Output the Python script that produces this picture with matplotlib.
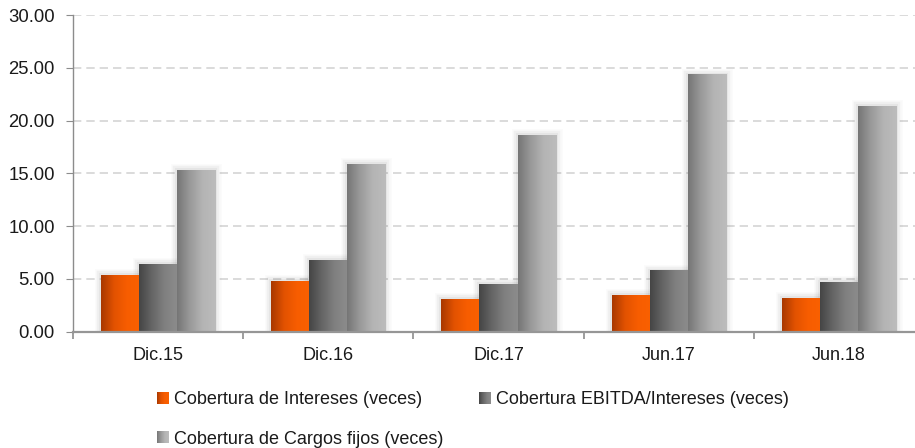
import numpy as np
import matplotlib
matplotlib.use("Agg")
import matplotlib.pyplot as plt
from matplotlib.colors import LinearSegmentedColormap
from matplotlib.patches import Rectangle
from matplotlib.legend_handler import HandlerBase
from matplotlib import patheffects as pe

plt.rcParams['font.family'] = ['Liberation Sans', 'DejaVu Sans']

categories = ['Dic.15', 'Dic.16', 'Dic.17', 'Jun.17', 'Jun.18']
intereses = [5.35, 4.78, 3.07, 3.50, 3.17]
ebitda = [6.40, 6.80, 4.53, 5.78, 4.67]
cargos = [15.30, 15.90, 18.65, 24.35, 21.40]
labels = ['Cobertura de Intereses (veces)',
          'Cobertura EBITDA/Intereses (veces)',
          'Cobertura de Cargos fijos (veces)']

cmaps = [
    LinearSegmentedColormap.from_list('o', ['#a83800', '#e25200', '#f75d00', '#fa6000']),
    LinearSegmentedColormap.from_list('d', ['#454545', '#666666', '#808080', '#8c8c8c']),
    LinearSegmentedColormap.from_list('l', ['#767676', '#9a9a9a', '#b4b4b4', '#bcbcbc']),
]


class GradHandler(HandlerBase):
    def __init__(self, cmap):
        super().__init__()
        self.cmap = cmap

    def create_artists(self, legend, orig_handle, xdescent, ydescent,
                       width, height, fontsize, trans):
        n = 12
        arts = []
        for i in range(n):
            arts.append(Rectangle((-xdescent + width * i / n, -ydescent), width / n * 1.05,
                                  height, facecolor=self.cmap((i + 0.5) / n),
                                  edgecolor='none', transform=trans))
        return arts


W, H = 915, 448
fig = plt.figure(figsize=(W / 100, H / 100), dpi=100)
ax = fig.add_axes([73 / W, 116.3 / H, 851 / W, 316.7 / H])

x = np.arange(len(categories))
bw = 0.224
grad = np.linspace(0, 1, 64).reshape(1, -1)
containers = []
for k, vals in enumerate([intereses, ebitda, cargos]):
    bars = ax.bar(x + (k - 1) * bw, vals, bw, facecolor='none', edgecolor='none',
                  zorder=2 + k * 0.1, label=labels[k])
    containers.append(bars)
    for b in bars:
        b.set_path_effects([
            pe.Stroke(linewidth=9, foreground='#555555', alpha=0.03),
            pe.Stroke(linewidth=6, foreground='#555555', alpha=0.05),
            pe.Stroke(linewidth=3, foreground='#555555', alpha=0.07),
        ])
        x0, y0 = b.get_x(), b.get_y()
        ax.imshow(grad, cmap=cmaps[k], aspect='auto', interpolation='bilinear',
                  extent=(x0, x0 + b.get_width(), y0, y0 + b.get_height()),
                  zorder=3 + k * 0.1)

ax.set_xlim(-0.5, len(categories) - 0.5)
ax.set_ylim(0, 30)
ax.set_yticks(np.arange(0, 31, 5))
ax.set_yticklabels([f'{v:.2f}' for v in np.arange(0, 31, 5)])
ax.set_xticks(x)
ax.set_xticklabels(categories)
ax.set_xticks(np.arange(-0.5, len(categories), 1), minor=True)

ax.yaxis.grid(True, color='#d4d4d4', linestyle=(0, (5, 3)), linewidth=1.2, zorder=0)
ax.set_axisbelow(True)
for s in ['top', 'right']:
    ax.spines[s].set_visible(False)
ax.spines['left'].set_color('#8c8c8c')
ax.spines['left'].set_linewidth(1.0)
ax.spines['bottom'].set_color('#969696')
ax.spines['bottom'].set_linewidth(1.6)
ax.spines['bottom'].set_zorder(5)

ax.tick_params(axis='y', length=5, color='#8c8c8c', pad=8, labelsize=13.3, labelcolor='#1a1a1a')
ax.tick_params(axis='x', which='major', length=0, pad=11, labelsize=13, labelcolor='#1a1a1a')
ax.tick_params(axis='x', which='minor', length=5, color='#8c8c8c', width=1.2)

order = [0, 2, 1]
leg = fig.legend([containers[i] for i in order], [labels[i] for i in order],
                 handler_map={containers[i]: GradHandler(cmaps[i]) for i in range(3)},
                 ncol=2, loc='upper left', bbox_to_anchor=(157 / W, 1 - 391 / H),
                 frameon=False, fontsize=13.0, borderpad=0, borderaxespad=0,
                 handlelength=0.64, handleheight=0.64, handletextpad=0.28,
                 columnspacing=2.0, labelspacing=1.25)
for t in leg.get_texts():
    t.set_color('#1a1a1a')

fig.savefig('out.png', dpi=100)
